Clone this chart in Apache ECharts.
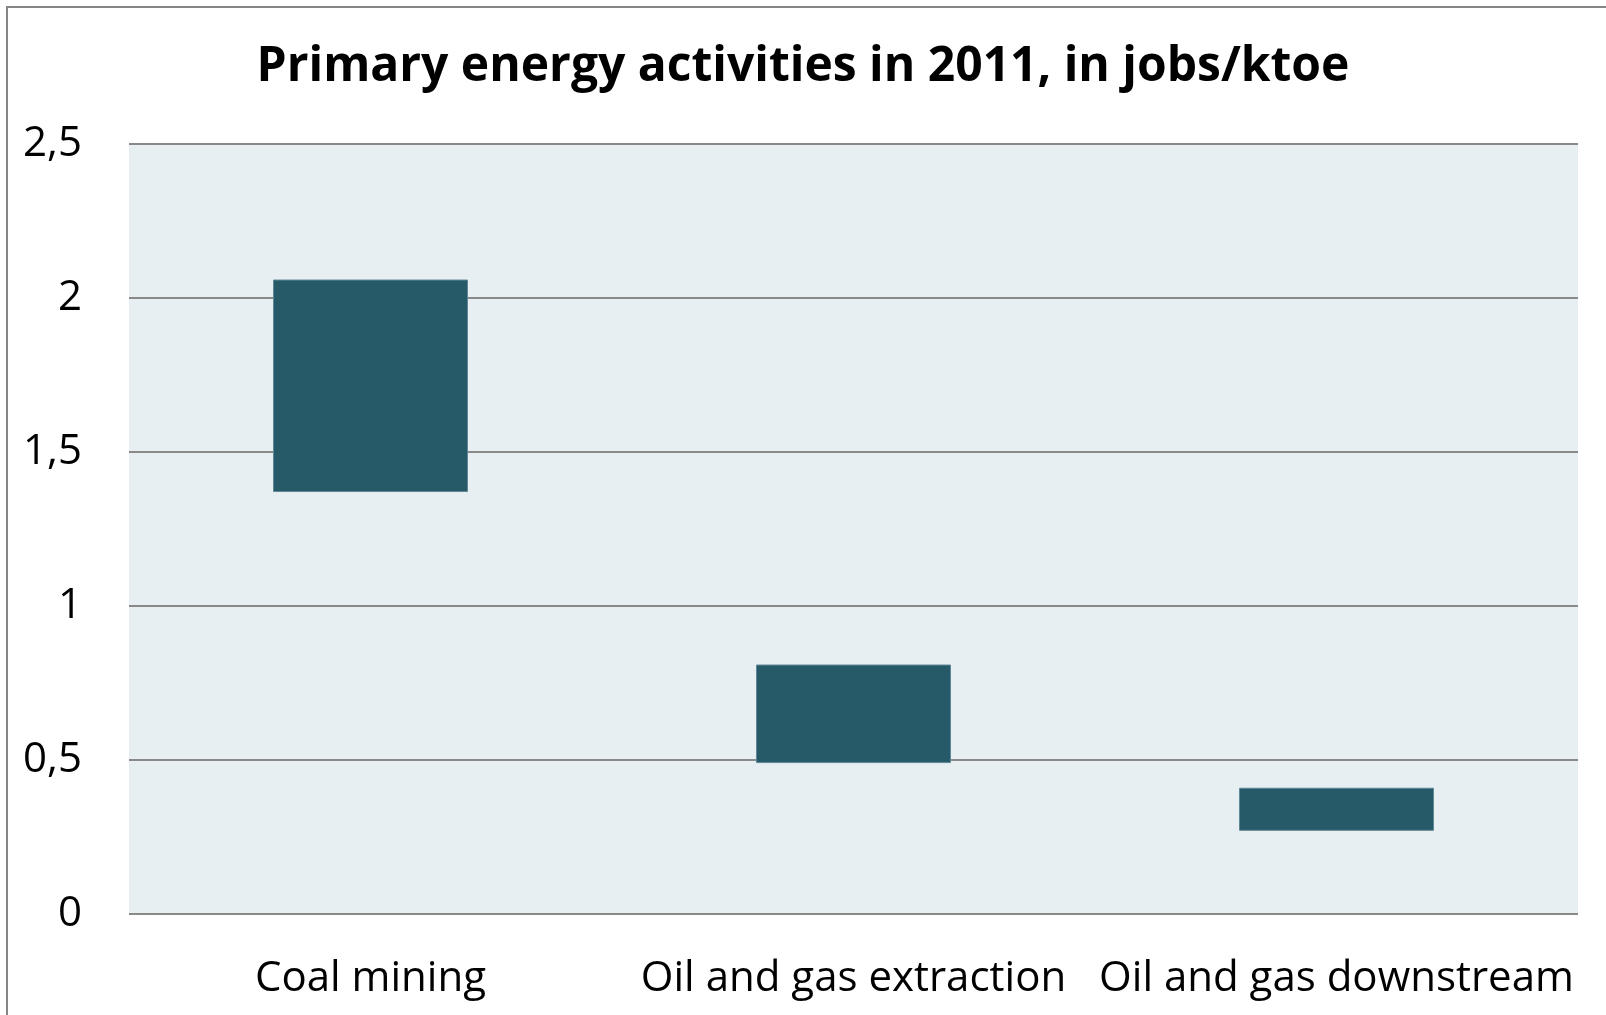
<!DOCTYPE html>
<html lang="en">
<head>
    <meta charset="UTF-8">
    <title>Primary energy activities in 2011</title>
    <script src="https://cdn.jsdelivr.net/npm/echarts@6/dist/echarts.min.js"></script>
    <style>
        html, body { margin: 0; padding: 0; background: #ffffff; }
    </style>
</head>
<body>
    <div id="main" style="width: 1606px; height: 1015px;"></div>

    <script>
        // data (jobs/ktoe, low and high end of each range)
        var categories = ['Coal mining', 'Oil and gas extraction', 'Oil and gas downstream'];
        var lowValues = [1.37, 0.49, 0.27];
        var highValues = [2.06, 0.81, 0.41];
        var yTicks = [0, 0.5, 1, 1.5, 2, 2.5];

        var rangeValues = highValues.map(function (h, i) {
            return +(h - lowValues[i]).toFixed(2);
        });

        var font = '"Open Sans", "Liberation Sans", sans-serif';
        var myChart = echarts.init(document.getElementById('main'));

        var option = {
            backgroundColor: '#ffffff',
            animation: false,
            title: {
                text: 'Primary energy activities in 2011, in jobs/ktoe',
                left: 'center',
                top: 38,
                textStyle: {
                    fontFamily: font,
                    fontWeight: 'bold',
                    fontSize: 48,
                    color: '#000000'
                }
            },
            // outer frame of the chart area
            graphic: [{
                type: 'rect',
                shape: { x: 7, y: 7, width: 1700, height: 1100 },
                style: { fill: 'none', stroke: '#868686', lineWidth: 2 },
                silent: true
            }],
            grid: {
                left: 129,
                right: 28,
                top: 144,
                bottom: 101,
                show: true,
                backgroundColor: '#e8eff2',
                borderWidth: 0
            },
            xAxis: {
                type: 'category',
                data: categories,
                axisLine: { show: false },
                axisTick: { show: false },
                axisLabel: {
                    fontFamily: font,
                    fontSize: 42,
                    color: '#000000',
                    margin: 44,
                    interval: 0
                }
            },
            yAxis: {
                type: 'value',
                min: yTicks[0],
                max: yTicks[yTicks.length - 1],
                interval: 0.5,
                axisLine: { show: false },
                axisTick: { show: false },
                splitLine: { lineStyle: { color: '#898989', width: 2 } },
                axisLabel: {
                    fontFamily: font,
                    fontSize: 42,
                    color: '#000000',
                    margin: 47,
                    formatter: function (v) { return String(v).replace('.', ','); }
                }
            },
            series: [
                {
                    name: 'base',
                    type: 'bar',
                    stack: 'range',
                    barWidth: 195,
                    data: lowValues,
                    itemStyle: { color: 'transparent' },
                    silent: true
                },
                {
                    name: 'range',
                    type: 'bar',
                    stack: 'range',
                    barWidth: 195,
                    data: rangeValues,
                    itemStyle: {
                        color: '#265a69',
                        borderColor: '#5f8896',
                        borderWidth: 1
                    }
                }
            ]
        };
        myChart.setOption(option);
    </script>
</body>
</html>
